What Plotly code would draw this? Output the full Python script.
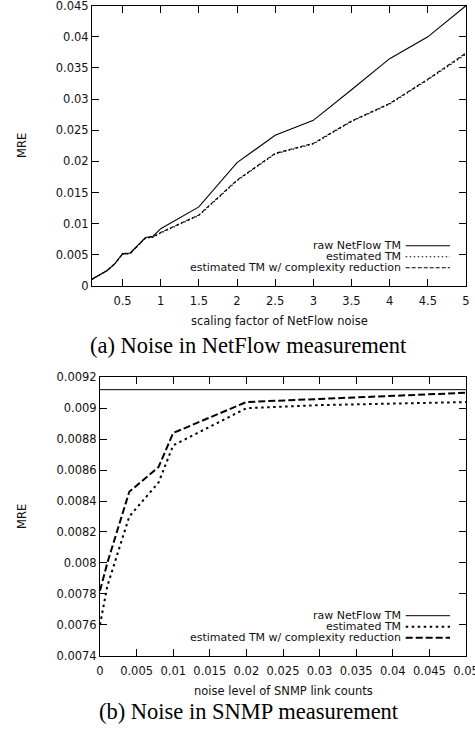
import plotly.graph_objects as go

# ---------------- data ----------------
# (a) Noise in NetFlow measurement
nf_x = [0.1, 0.2, 0.3, 0.4, 0.5, 0.6, 0.7, 0.8, 0.9, 1.0, 1.5, 2.0, 2.5, 3.0, 3.5, 4.0, 4.5, 5.0]
nf_raw = [0.0011, 0.0018, 0.0025, 0.0036, 0.0052, 0.0053, 0.0065, 0.0078, 0.0080, 0.0092,
          0.0127, 0.0198, 0.0242, 0.0266, 0.0315, 0.0365, 0.0400, 0.0450]
nf_est = [0.0011, 0.0018, 0.0025, 0.0036, 0.0051, 0.0052, 0.0064, 0.0077, 0.0078, 0.0085,
          0.0113, 0.0169, 0.0212, 0.0228, 0.0264, 0.0292, 0.0331, 0.0372]
nf_cr = [0.0011, 0.0018, 0.0025, 0.0036, 0.0051, 0.0052, 0.0065, 0.0077, 0.0079, 0.0086,
         0.0114, 0.0170, 0.0213, 0.0229, 0.0265, 0.0293, 0.0332, 0.0374]
nf_xticks = [0.5, 1, 1.5, 2, 2.5, 3, 3.5, 4, 4.5, 5]
nf_xticktext = ["0.5", "1", "1.5", "2", "2.5", "3", "3.5", "4", "4.5", "5"]
nf_yticks = [0, 0.005, 0.01, 0.015, 0.02, 0.025, 0.03, 0.035, 0.04, 0.045]
nf_yticktext = ["0", "0.005", "0.01", "0.015", "0.02", "0.025", "0.03", "0.035", "0.04", "0.045"]

# (b) Noise in SNMP measurement
sn_x = [0, 0.001, 0.004, 0.008, 0.01, 0.02, 0.03, 0.04, 0.05]
sn_raw = [0.00912, 0.00912, 0.00912, 0.00912, 0.00912, 0.00912, 0.00912, 0.00912, 0.00912]
sn_est = [0.00760, 0.00785, 0.00830, 0.00852, 0.00876, 0.00900, 0.00902, 0.00903, 0.00904]
sn_cr = [0.00782, 0.00800, 0.00846, 0.00862, 0.00884, 0.00904, 0.00906, 0.00908, 0.00910]
sn_xticks = [0, 0.005, 0.01, 0.015, 0.02, 0.025, 0.03, 0.035, 0.04, 0.045, 0.05]
sn_xticktext = ["0", "0.005", "0.01", "0.015", "0.02", "0.025", "0.03", "0.035", "0.04", "0.045", "0.05"]
sn_yticks = [0.0074, 0.0076, 0.0078, 0.008, 0.0082, 0.0084, 0.0086, 0.0088, 0.009, 0.0092]
sn_yticktext = ["0.0074", "0.0076", "0.0078", "0.008", "0.0082", "0.0084", "0.0086", "0.0088", "0.009", "0.0092"]

series_names = ["raw NetFlow TM", "estimated TM", "estimated TM w/ complexity reduction"]

# ---------------- layout helpers ----------------
W, H = 475, 735
def px(x):
    return x / W
def py(y):
    return 1 - y / H

FONT = "DejaVu Sans"
FS = 11.5
LFS = 11
TXT = "#111111"

fig = go.Figure()

top_dash = ["solid", "1.5px,2.5px", "4px,2px"]
bot_dash = ["solid", "2.5px,3.5px", "7px,3px"]
top_w = [1.1, 1.1, 1.1]
bot_w = [1, 2, 2]

for ys, d, w in zip([nf_raw, nf_est, nf_cr], top_dash, top_w):
    fig.add_trace(go.Scatter(x=nf_x, y=ys, mode="lines", xaxis="x", yaxis="y",
                             line=dict(color="black", width=w, dash=d), showlegend=False))
for ys, d, w in zip([sn_raw, sn_est, sn_cr], bot_dash, bot_w):
    fig.add_trace(go.Scatter(x=sn_x, y=ys, mode="lines", xaxis="x2", yaxis="y2",
                             line=dict(color="black", width=w, dash=d), showlegend=False))

axis_common = dict(ticks="inside", ticklen=7, tickwidth=1, tickcolor="black",
                   mirror="ticks", showline=True, linecolor="black", linewidth=1,
                   showgrid=False, zeroline=False, automargin=False,
                   ticklabeloverflow="allow",
                   tickfont=dict(family=FONT, size=FS, color=TXT))

fig.update_layout(
    width=W, height=H,
    margin=dict(l=0, r=0, t=0, b=0, pad=0, autoexpand=False),
    paper_bgcolor="white", plot_bgcolor="white",
    showlegend=False,
    xaxis=dict(domain=[px(92), px(466)], range=[0.1, 5], anchor="y", ticklabelstandoff=4,
               tickvals=nf_xticks, ticktext=nf_xticktext, **axis_common),
    yaxis=dict(domain=[py(286), py(5.7)], range=[0, 0.045], anchor="x",
               tickvals=nf_yticks, ticktext=nf_yticktext, **axis_common),
    xaxis2=dict(domain=[px(100), px(466)], range=[0, 0.05], anchor="y2", ticklabelstandoff=4,
                tickvals=sn_xticks, ticktext=sn_xticktext, **axis_common),
    yaxis2=dict(domain=[py(655.7), py(377.3)], range=[0.0074, 0.0092], anchor="x2",
                tickvals=sn_yticks, ticktext=sn_yticktext, **axis_common),
)

ann = []
shapes = []
# axis titles & captions
ann.append(dict(text="MRE", x=px(22), y=py(146), textangle=-90))
ann.append(dict(text="MRE", x=px(22), y=py(517), textangle=-90))
ann.append(dict(text="scaling factor of NetFlow noise", x=px(279), y=py(321)))
ann.append(dict(text="noise level of SNMP link counts", x=px(283), y=py(691)))
for a in ann:
    a.update(xref="paper", yref="paper", showarrow=False, xanchor="center", yanchor="middle",
             font=dict(family=FONT, size=FS, color=TXT))
ann.append(dict(text="(a) Noise in NetFlow measurement", x=px(248.5), y=py(345),
                xref="paper", yref="paper", showarrow=False, xanchor="center", yanchor="middle",
                font=dict(family="Liberation Serif", size=22.5, color="black")))
ann.append(dict(text="(b) Noise in SNMP measurement", x=px(248.5), y=py(711),
                xref="paper", yref="paper", showarrow=False, xanchor="center", yanchor="middle",
                font=dict(family="Liberation Serif", size=22.5, color="black")))

# manual legends (text right, sample line on right)
for rows, dashes, widths in [([245.7, 256.7, 267.7], top_dash, top_w),
                              ([615.7, 626.7, 637.7], bot_dash, bot_w)]:
    for name, yy, d, w in zip(series_names, rows, dashes, widths):
        ann.append(dict(text=name, x=px(401.7), y=py(yy), xref="paper", yref="paper",
                        showarrow=False, xanchor="right", yanchor="middle", borderpad=0,
                        font=dict(family=FONT, size=LFS, color=TXT)))
        shapes.append(dict(type="line", xref="paper", yref="paper",
                           x0=px(405.7), x1=px(450), y0=py(yy), y1=py(yy),
                           line=dict(color="black", width=w, dash=d)))

fig.update_layout(annotations=ann, shapes=shapes)
fig.write_html(
    "out.html",
    config={"displayModeBar": False, "staticPlot": True},
    post_script="document.body.style.margin='0px';"
                "document.documentElement.style.overflow='hidden';",
)
